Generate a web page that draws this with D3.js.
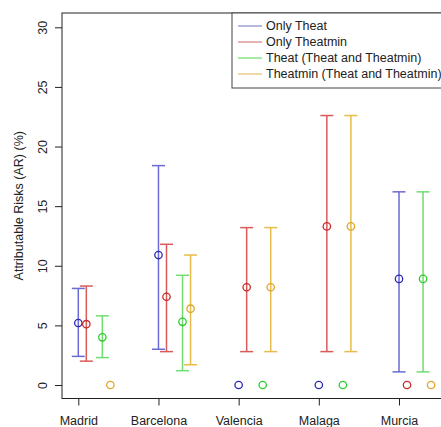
<!DOCTYPE html>
<html>
<head>
<meta charset="utf-8">
<script src="https://cdn.jsdelivr.net/npm/d3@7"></script>
<style>
html,body{margin:0;padding:0;background:#fff;overflow:hidden;}
svg{display:block;font-family:"Liberation Sans",Arial,sans-serif;}
</style>
</head>
<body>
<svg id="chart" width="441" height="427"></svg>
<script>
const cities = ["Madrid","Barcelona","Valencia","Malaga","Murcia"];
const yTicks = [0,5,10,15,20,25,30];
const seriesNames = ["Only Theat","Only Theatmin","Theat (Theat and Theatmin)","Theatmin (Theat and Theatmin)"];

const onlyTheat      = [5.2, 10.9, 0, 0, 8.9];
const onlyTheatLo    = [2.4, 3.0, null, null, 1.1];
const onlyTheatHi    = [8.1, 18.4, null, null, 16.2];

const onlyTheatmin   = [5.1, 7.4, 8.2, 13.3, 0];
const onlyTheatminLo = [2.0, 2.8, 2.8, 2.8, null];
const onlyTheatminHi = [8.3, 11.8, 13.2, 22.6, null];

const theatBoth      = [4.0, 5.3, 0, 0, 8.9];
const theatBothLo    = [2.3, 1.2, null, null, 1.1];
const theatBothHi    = [5.8, 9.2, null, null, 16.2];

const theatminBoth   = [0, 6.4, 8.2, 13.3, 0];
const theatminBothLo = [null, 1.7, 2.8, 2.8, null];
const theatminBothHi = [null, 10.9, 13.2, 22.6, null];

const offsets = [0, 0.1, 0.3, 0.4];
const barColors = ["#6a6ad8","#d85a5a","#70dc70","#e8bc48"];
const ptColors  = ["#2a2ab4","#cc2a2a","#2ccc2c","#e0a428"];
const legColors = ["#a0a0d4","#dc9a9a","#88e088","#e8cc88"];

const series = [
  {v: onlyTheat, lo: onlyTheatLo, hi: onlyTheatHi},
  {v: onlyTheatmin, lo: onlyTheatminLo, hi: onlyTheatminHi},
  {v: theatBoth, lo: theatBothLo, hi: theatBothHi},
  {v: theatminBoth, lo: theatminBothLo, hi: theatminBothHi}
];

const svg = d3.select("#chart");
const box = {left: 62, top: 13, right: 446, bottom: 398.5};

const y = d3.scaleLinear().domain([0,30]).range([385, 27.3]);
const x = d3.scaleLinear().domain([0,4]).range([78.3, 399]);

// plot box
svg.append("rect").attr("x", box.left).attr("y", box.top)
  .attr("width", box.right - box.left).attr("height", box.bottom - box.top)
  .attr("fill","none").attr("stroke","#222").attr("stroke-width",1);

// y axis
const yAxis = d3.axisLeft(y).tickValues(yTicks).tickSize(7).tickPadding(0).tickFormat(d3.format("d"));
const gy = svg.append("g").attr("transform", `translate(${box.left},0)`).call(yAxis);
gy.select(".domain").remove();
gy.selectAll(".tick line").attr("stroke","#222");
gy.selectAll(".tick text")
  .attr("x",0).attr("dy",null)
  .attr("transform","translate(-15.5,0) rotate(-90)")
  .attr("text-anchor","middle")
  .attr("font-size",12.5).attr("fill","#222")
  .attr("font-family","'Liberation Sans',Arial,sans-serif");

// x axis
const xAxis = d3.axisBottom(x).tickValues(d3.range(cities.length)).tickSize(7)
  .tickFormat(i => cities[i]);
const gx = svg.append("g").attr("transform", `translate(0,${box.bottom})`).call(xAxis);
gx.select(".domain").remove();
gx.selectAll(".tick line").attr("stroke","#222");
gx.selectAll(".tick text").attr("y", 26.8).attr("dy", null)
  .attr("font-size",12.5).attr("fill","#222")
  .attr("font-family","'Liberation Sans',Arial,sans-serif");

// y label
svg.append("text")
  .attr("transform", `translate(23,${(box.top+box.bottom)/2}) rotate(-90)`)
  .attr("text-anchor","middle").attr("font-size",12.5).attr("fill","#222")
  .text("Attributable Risks (AR) (%)");

// error bars and points
const capW = 6.5;
series.forEach((s, si) => {
  const g = svg.append("g");
  cities.forEach((c, ci) => {
    const cx = x(ci + offsets[si]);
    if (s.lo[ci] != null && s.hi[ci] != null) {
      const y0 = y(s.lo[ci]), y1 = y(s.hi[ci]);
      g.append("line").attr("x1",cx).attr("x2",cx).attr("y1",y0).attr("y2",y1)
        .attr("stroke",barColors[si]).attr("stroke-width",1.5);
      [y0,y1].forEach(yy => g.append("line")
        .attr("x1",cx-capW).attr("x2",cx+capW).attr("y1",yy).attr("y2",yy)
        .attr("stroke",barColors[si]).attr("stroke-width",1.5));
    }
    g.append("circle").attr("cx",cx).attr("cy",y(s.v[ci])).attr("r",3.7)
      .attr("fill","none").attr("stroke",ptColors[si]).attr("stroke-width",1.3);
  });
});

// legend
const leg = svg.append("g");
leg.append("rect").attr("x",232).attr("y",box.top).attr("width",230).attr("height",75)
  .attr("fill","#fff").attr("stroke","#444").attr("stroke-width",1);
seriesNames.forEach((n,i) => {
  const ly = 26 + i*16;
  leg.append("line").attr("x1",238).attr("x2",262).attr("y1",ly).attr("y2",ly)
    .attr("stroke",legColors[i]).attr("stroke-width",1.5);
  leg.append("text").attr("x",266).attr("y",ly+4.4).attr("font-size",12.5).attr("fill","#222")
    .text(n);
});
</script>
</body>
</html>
